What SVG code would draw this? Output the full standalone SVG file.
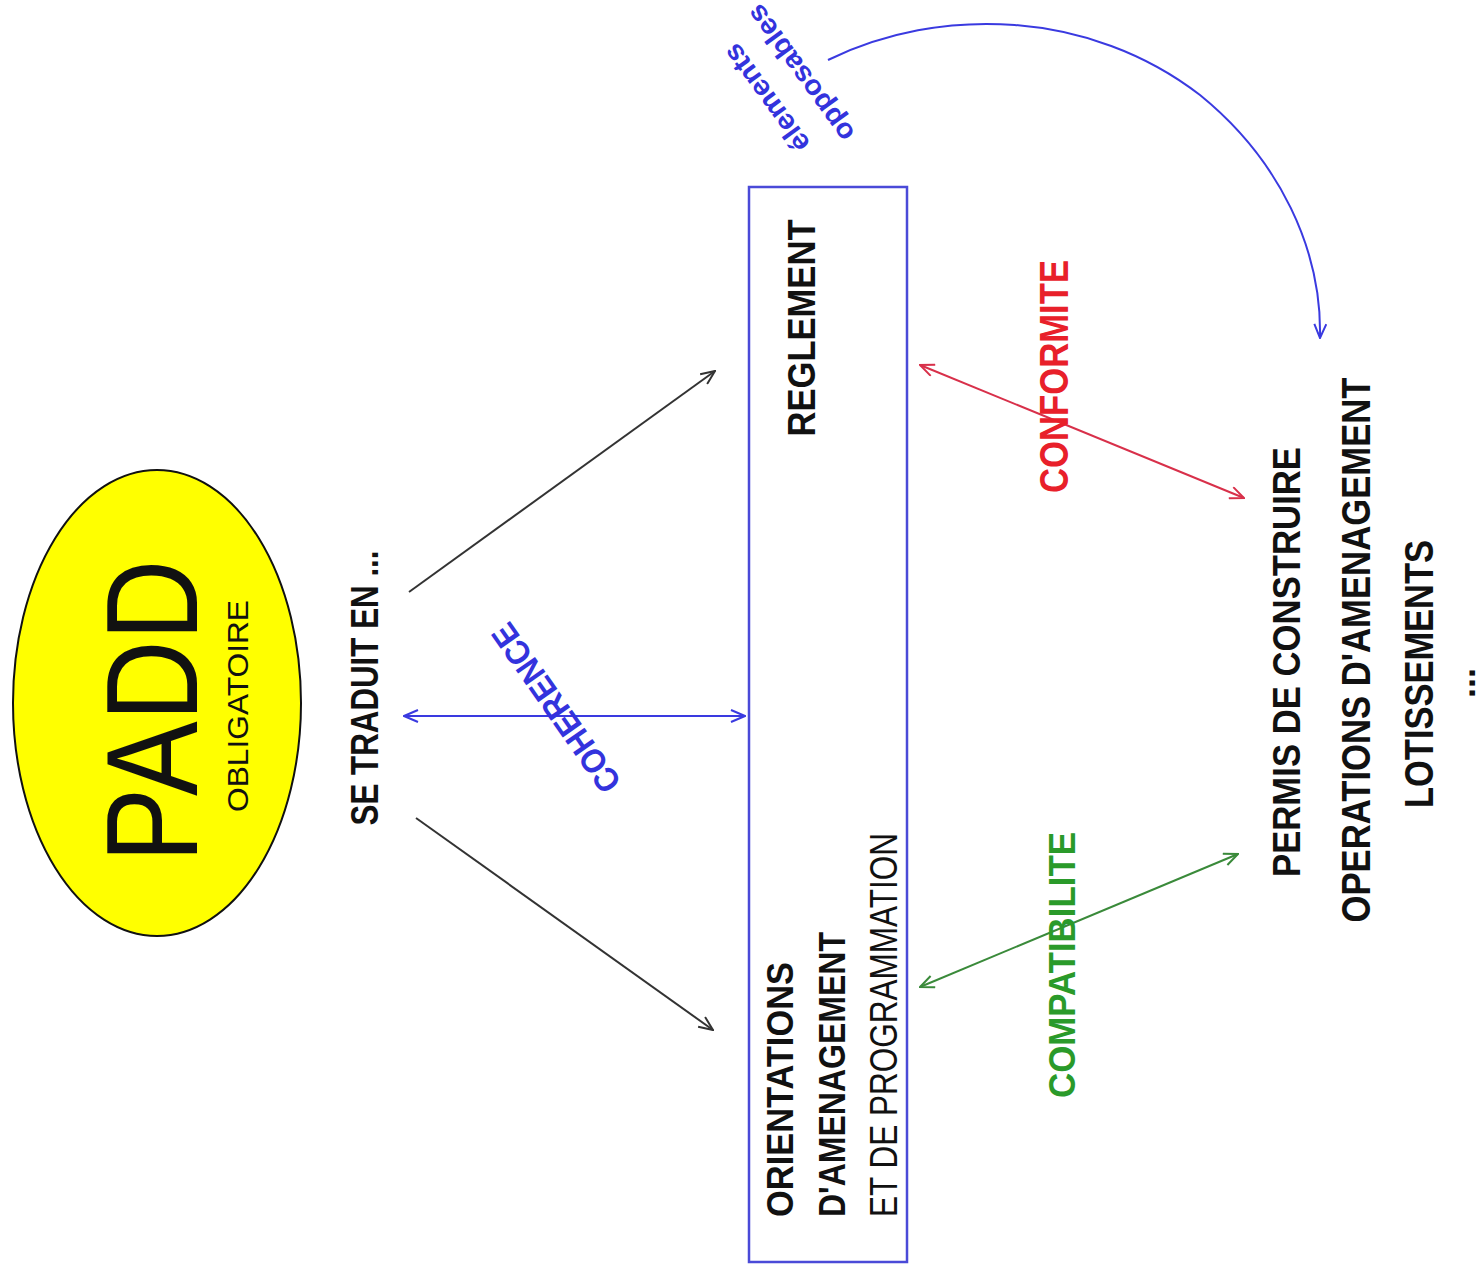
<svg xmlns="http://www.w3.org/2000/svg" width="1483" height="1277" viewBox="0 0 1483 1277">
<style>
text{font-family:"Liberation Sans",Arial,sans-serif;}
.b{font-weight:bold;}
.blk{fill:#111;}
.ln{fill:none;stroke-width:2;}
</style>
<defs>
<marker id="ak" markerWidth="16" markerHeight="14" refX="15" refY="7" orient="auto-start-reverse" markerUnits="userSpaceOnUse"><path d="M1,1 L15,7 L1,13" fill="none" stroke="#333" stroke-width="2"/></marker>
<marker id="ab" markerWidth="16" markerHeight="14" refX="15" refY="7" orient="auto-start-reverse" markerUnits="userSpaceOnUse"><path d="M1,1 L15,7 L1,13" fill="none" stroke="#3a3ae0" stroke-width="2"/></marker>
<marker id="ar" markerWidth="16" markerHeight="14" refX="15" refY="7" orient="auto-start-reverse" markerUnits="userSpaceOnUse"><path d="M1,1 L15,7 L1,13" fill="none" stroke="#d8304a" stroke-width="2"/></marker>
<marker id="ag" markerWidth="16" markerHeight="14" refX="15" refY="7" orient="auto-start-reverse" markerUnits="userSpaceOnUse"><path d="M1,1 L15,7 L1,13" fill="none" stroke="#3a8a3a" stroke-width="2"/></marker>
</defs>
<rect width="1483" height="1277" fill="#fff"/>

<g id="padd">
<ellipse cx="157" cy="703" rx="144" ry="233" fill="#ffff00" stroke="#111" stroke-width="2"/>
<text class="blk" transform="translate(197,711) rotate(-90)" text-anchor="middle" font-size="130" textLength="303" lengthAdjust="spacingAndGlyphs">PADD</text>
<text class="blk" transform="translate(248,706) rotate(-90)" text-anchor="middle" font-size="29" textLength="212" lengthAdjust="spacingAndGlyphs">OBLIGATOIRE</text>
</g>

<g id="se-traduit">
<text class="blk b" transform="translate(378,688) rotate(-90)" text-anchor="middle" font-size="38" textLength="275" lengthAdjust="spacingAndGlyphs">SE TRADUIT EN ...</text>
</g>

<g id="box">
<rect x="749" y="187" width="158" height="1075" fill="none" stroke="#4a4ad8" stroke-width="2.5"/>
</g>

<g id="reglement">
<text class="blk b" transform="translate(815,328) rotate(-90)" text-anchor="middle" font-size="39" textLength="217" lengthAdjust="spacingAndGlyphs">REGLEMENT</text>
</g>

<g id="orientations">
<text class="blk b" transform="translate(793,1217) rotate(-90)" font-size="36" textLength="255" lengthAdjust="spacingAndGlyphs">ORIENTATIONS</text>
<text class="blk b" transform="translate(845,1217) rotate(-90)" font-size="36" textLength="285" lengthAdjust="spacingAndGlyphs">D'AMENAGEMENT</text>
<text class="blk" transform="translate(897,1217) rotate(-90)" font-size="38" textLength="384" lengthAdjust="spacingAndGlyphs">ET DE PROGRAMMATION</text>
</g>

<g id="autorisations">
<text class="blk b" transform="translate(1300,662) rotate(-90)" text-anchor="middle" font-size="39" textLength="430" lengthAdjust="spacingAndGlyphs">PERMIS DE CONSTRUIRE</text>
<text class="blk b" transform="translate(1370,650) rotate(-90)" text-anchor="middle" font-size="40" textLength="545" lengthAdjust="spacingAndGlyphs">OPERATIONS D'AMENAGEMENT</text>
<text class="blk b" transform="translate(1433,674) rotate(-90)" text-anchor="middle" font-size="40" textLength="268" lengthAdjust="spacingAndGlyphs">LOTISSEMENTS</text>
<text class="blk b" transform="translate(1475,683) rotate(-90)" text-anchor="middle" font-size="36">...</text>
</g>

<g id="connectors">
<line class="ln" x1="409" y1="592" x2="715" y2="371" stroke="#333" marker-end="url(#ak)"/>
<line class="ln" x1="416" y1="818" x2="713" y2="1030" stroke="#333" marker-end="url(#ak)"/>
<line class="ln" x1="404" y1="716" x2="745" y2="716" stroke="#3a3ae0" stroke-width="2.5" marker-start="url(#ab)" marker-end="url(#ab)"/>
<line class="ln" x1="920" y1="365" x2="1244" y2="498" stroke="#d8304a" marker-start="url(#ar)" marker-end="url(#ar)"/>
<line class="ln" x1="920" y1="987" x2="1238" y2="854" stroke="#3a8a3a" marker-start="url(#ag)" marker-end="url(#ag)"/>
<path class="ln" d="M828,60 C940,5 1090,10 1200,95 C1280,160 1322,250 1320,338" stroke="#3a3ae0" marker-end="url(#ab)"/>
</g>

<g id="labels">
<text class="b" fill="#3333dd" transform="translate(556,708) rotate(-125)" text-anchor="middle" y="12" font-size="34" textLength="198" lengthAdjust="spacingAndGlyphs">COHERENCE</text>
<text class="b" fill="#e8202a" transform="translate(1068,493) rotate(-90)" font-size="41" textLength="233" lengthAdjust="spacingAndGlyphs">CONFORMITE</text>
<text class="b" fill="#2a9a2a" transform="translate(1075,1098) rotate(-90)" font-size="36" textLength="266" lengthAdjust="spacingAndGlyphs">COMPATIBILITE</text>
<g transform="translate(783,86) rotate(-126)" fill="#3333dd">
<text class="b" text-anchor="middle" y="-11" font-size="28" textLength="126" lengthAdjust="spacingAndGlyphs">élements</text>
<text class="b" text-anchor="middle" y="31" font-size="28" textLength="162" lengthAdjust="spacingAndGlyphs">opposables</text>
</g>
</g>
</svg>
